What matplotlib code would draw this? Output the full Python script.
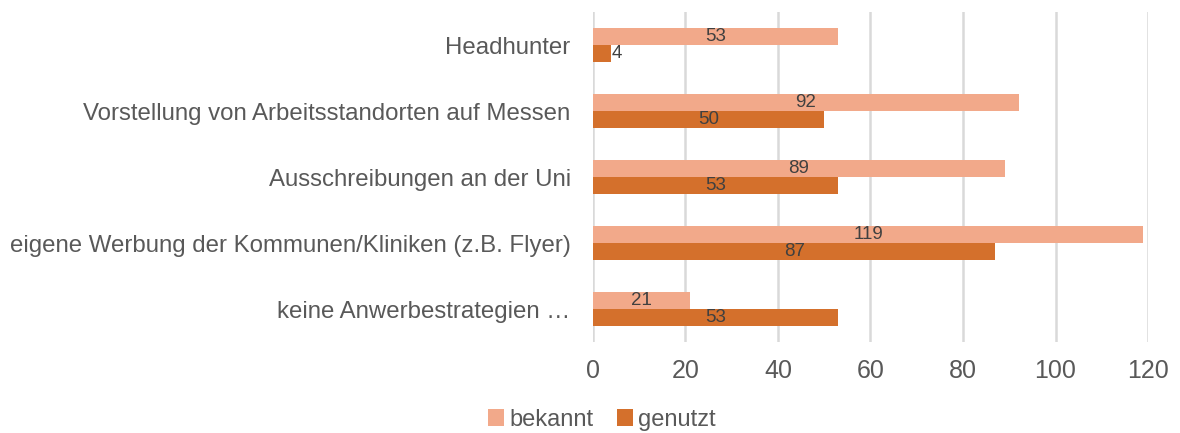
import numpy as np
import matplotlib.pyplot as plt

plt.rcParams['font.family'] = ['Liberation Sans', 'DejaVu Sans']

categories = ["Headhunter",
              "Vorstellung von Arbeitsstandorten auf Messen",
              "Ausschreibungen an der Uni",
              "eigene Werbung der Kommunen/Kliniken (z.B. Flyer)",
              "keine Anwerbestrategien \u2026"]
bekannt = [53, 92, 89, 119, 21]
genutzt = [4, 50, 53, 87, 53]

c_light = "#F2A98A"
c_dark = "#D4702C"
txt = "#595959"

fig = plt.figure(figsize=(11.8, 4.33), dpi=100)
ax = fig.add_axes([0.5025, 0.210, 0.4704, 0.762])

y = np.arange(len(categories))
h = 0.26
b1 = ax.barh(y - h / 2, bekannt, height=h, color=c_light, label="bekannt", zorder=3)
b2 = ax.barh(y + h / 2, genutzt, height=h, color=c_dark, label="genutzt", zorder=3)

# data labels, centred in the bars (small bars: just to the right)
for bars, vals in [(b1, bekannt), (b2, genutzt)]:
    for bar, v in zip(bars, vals):
        yc = bar.get_y() + bar.get_height() / 2
        if v < 8:
            ax.text(v, yc, str(v), ha="left", va="center", fontsize=13.5, color="#404040", zorder=4)
        else:
            ax.text(v / 2, yc, str(v), ha="center", va="center", fontsize=13.5, color="#404040", zorder=4)

ax.set_ylim(len(categories) - 0.5, -0.5)
ax.set_xlim(0, 120)
ax.set_xticks(range(0, 121, 20))
ax.set_yticks(y)
ax.set_yticklabels(categories)
ax.tick_params(axis="y", length=0, pad=16, labelsize=17.3, labelcolor=txt)
ax.tick_params(axis="x", length=0, pad=12, labelsize=18, labelcolor=txt)
ax.grid(axis="x", color="#D9D9D9", linewidth=1.8, zorder=0)
for s in ax.spines.values():
    s.set_visible(False)

ax.legend(handles=[b1, b2], loc="center", bbox_to_anchor=(0.51, 0.03),
          bbox_transform=fig.transFigure, ncol=2, frameon=False,
          fontsize=17, labelcolor=txt, handlelength=0.7, handleheight=0.7,
          handletextpad=0.2, columnspacing=1.0)

fig.savefig("out.png", dpi=100)
